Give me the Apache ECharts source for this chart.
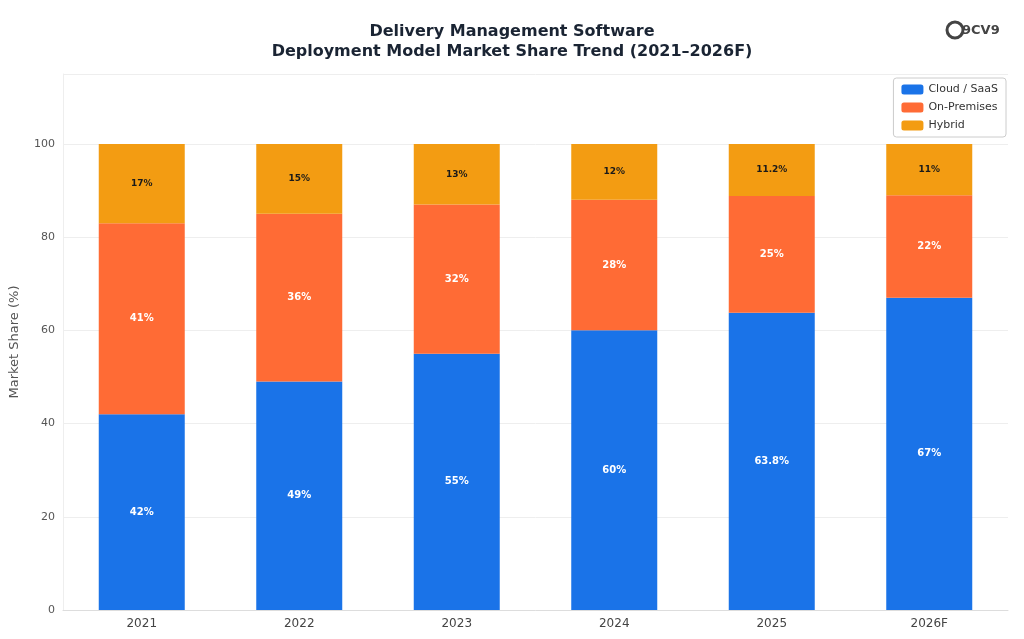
<!DOCTYPE html>
<html>
<head>
<meta charset="utf-8">
<script src="https://cdn.jsdelivr.net/npm/echarts@6/dist/echarts.min.js"></script>
<style>html,body{margin:0;padding:0;background:#fff}#chart{width:1024px;height:639px}</style>
</head>
<body>
<div id="chart"></div>
<script>
// data
var years = ['2021', '2022', '2023', '2024', '2025', '2026F'];
var cloud = [42, 49, 55, 60, 63.8, 67];
var onPrem = [41, 36, 32, 28, 25, 22];
var hybrid = [17, 15, 13, 12, 11.2, 11];

var chart = echarts.init(document.getElementById('chart'));

function seg(name, data, color, labelColor, size) {
    return {
        name: name,
        type: 'bar',
        stack: 'total',
        data: data,
        barWidth: 86,
        itemStyle: { color: color },
        label: {
            show: true,
            formatter: function (p) { return p.value + '%'; },
            color: labelColor,
            fontSize: size,
            fontWeight: 'bold'
        }
    };
}

chart.setOption({
    textStyle: { fontFamily: 'DejaVu Sans' },
    title: {
        text: 'Delivery Management Software\nDeployment Model Market Share Trend (2021\u20132026F)',
        left: 'center',
        top: 17,
        textStyle: { fontSize: 16, fontWeight: 'bold', color: '#1a2433', lineHeight: 20, fontFamily: 'DejaVu Sans' }
    },
    graphic: [
        { type: 'circle', shape: { cx: 955, cy: 30, r: 8 }, style: { fill: 'none', stroke: '#444', lineWidth: 3 } },
        { type: 'text', left: 962, top: 24, style: { text: '9CV9', fontSize: 13, fontWeight: 'bold', fill: '#444', fontFamily: 'DejaVu Sans' } }
    ],
    legend: {
        orient: 'vertical',
        right: 18,
        top: 78,
        itemWidth: 22,
        itemHeight: 10,
        itemGap: 7,
        padding: [6, 8],
        borderColor: '#ccc',
        borderWidth: 1,
        borderRadius: 3,
        textStyle: { fontSize: 11, color: '#333', fontFamily: 'DejaVu Sans' },
        data: ['Cloud / SaaS', 'On-Premises', 'Hybrid']
    },
    grid: { left: 63, right: 16, top: 74, bottom: 29, containLabel: false, outerBoundsMode: 'none' },
    xAxis: {
        type: 'category',
        data: years,
        axisTick: { show: false },
        axisLine: { lineStyle: { color: '#ddd' } },
        axisLabel: { color: '#444', fontSize: 12, fontFamily: 'DejaVu Sans' }
    },
    yAxis: {
        type: 'value',
        min: 0,
        max: 115,
        interval: 20,
        name: 'Market Share (%)',
        nameLocation: 'middle',
        nameGap: 42,
        nameTextStyle: { fontSize: 13, color: '#555', fontFamily: 'DejaVu Sans' },
        axisLine: { show: true, lineStyle: { color: '#eee' } },
        axisLabel: { color: '#555', fontSize: 11, showMaxLabel: false, fontFamily: 'DejaVu Sans' },
        splitLine: { lineStyle: { color: '#eee' } }
    },
    series: [
        seg('Cloud / SaaS', cloud, '#1a73e8', '#fff', 10),
        seg('On-Premises', onPrem, '#ff6b35', '#fff', 10),
        seg('Hybrid', hybrid, '#f39c12', '#1a1a1a', 9)
    ]
});
</script>
</body>
</html>
